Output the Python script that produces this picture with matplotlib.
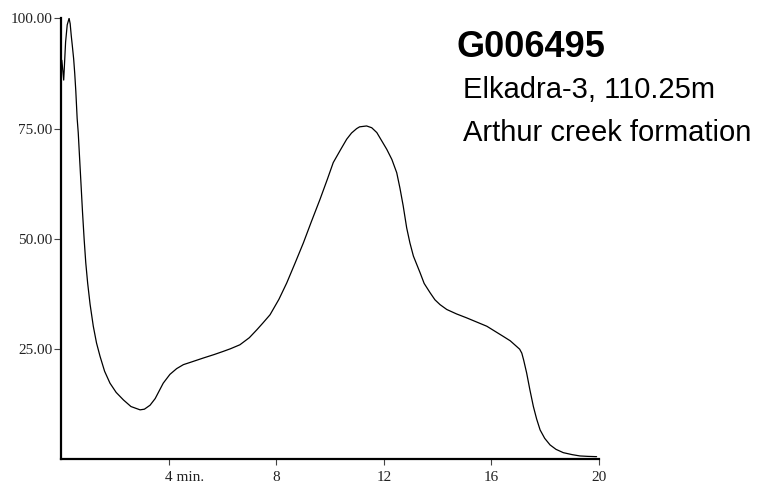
import matplotlib
matplotlib.use('Agg')
import matplotlib.pyplot as plt
import matplotlib.transforms as mtransforms

# retention time (min) and relative intensity (%)
time_min = [0.03, 0.10, 0.17, 0.23, 0.30, 0.34, 0.38, 0.42, 0.47, 0.51,
            0.55, 0.60, 0.64, 0.69, 0.74, 0.80, 0.86, 0.92, 0.99, 1.08,
            1.20, 1.32, 1.45, 1.62, 1.82, 2.05, 2.32, 2.60, 2.94, 3.10,
            3.31, 3.50, 3.80, 4.05, 4.30, 4.55, 4.80, 5.29, 5.70, 6.03,
            6.30, 6.65, 7.00, 7.28, 7.50, 7.77, 8.10, 8.39, 8.70, 9.01,
            9.30, 9.63, 9.90, 10.12, 10.40, 10.62, 10.80, 10.99, 11.10, 11.36,
            11.55, 11.74, 12.11, 12.30, 12.48, 12.60, 12.72, 12.85, 12.97, 13.10,
            13.35, 13.50, 13.72, 13.90, 14.09, 14.34, 14.70, 15.08, 15.83, 16.44,
            16.70, 16.94, 17.05, 17.13, 17.20, 17.31, 17.43, 17.56, 17.68, 17.81,
            17.98, 18.18, 18.40, 18.67, 19.00, 19.29, 19.60, 19.91]
intensity = [90.5, 86.0, 94.6, 98.5, 100.0, 98.8, 96.1, 93.8, 90.8, 87.5,
             83.5, 77.3, 74.1, 68.4, 62.8, 56.0, 49.9, 44.6, 40.0, 35.2,
             30.2, 26.4, 23.4, 20.0, 17.3, 15.2, 13.5, 12.0, 11.25, 11.4,
             12.3, 13.8, 17.3, 19.3, 20.6, 21.5, 22.0, 23.0, 23.8, 24.5,
             25.1, 26.0, 27.6, 29.4, 30.9, 32.8, 36.3, 40.0, 44.5, 49.1,
             53.8, 59.0, 63.5, 67.3, 70.3, 72.6, 74.0, 75.0, 75.4, 75.6,
             75.2, 74.1, 70.3, 68.0, 65.0, 61.5, 57.5, 52.5, 49.1, 46.1,
             42.3, 39.9, 37.8, 36.2, 35.1, 34.0, 33.0, 32.1, 30.2, 27.9,
             26.9, 25.6, 25.0, 24.1, 22.5, 19.6, 15.8, 12.0, 9.2, 6.7,
             4.8, 3.3, 2.3, 1.55, 1.1, 0.8, 0.7, 0.64]

x_ticks = [4, 8, 12, 16, 20]
x_labels = ['4 min.', '8', '12', '16', '20']
y_ticks = [25, 50, 75, 100]
y_labels = ['25.00', '50.00', '75.00', '100.00']

sample_id = 'G006495'
sample_well = 'Elkadra-3, 110.25m'
sample_formation = 'Arthur creek formation'

fig = plt.figure(figsize=(7.57, 4.91), dpi=100)
ax = fig.add_axes([0.0806, 0.0642, 0.7107, 0.8985])

ax.plot(time_min, intensity, color='black', linewidth=0.9,
        solid_joinstyle='round', solid_capstyle='round')

ax.set_xlim(0, 20)
ax.set_ylim(0, 100)
ax.spines['top'].set_visible(False)
ax.spines['right'].set_visible(False)
ax.spines['left'].set_linewidth(1.6)
ax.spines['bottom'].set_linewidth(1.6)

ax.set_xticks(x_ticks)
ax.set_xticklabels(x_labels, fontfamily='Liberation Serif', fontsize=11, color='#222222')
ax.set_yticks(y_ticks)
ax.set_yticklabels(y_labels, fontfamily='Liberation Serif', fontsize=11, color='#222222')
ax.tick_params(axis='x', length=4, width=0.8, pad=4, color='#444444')
ax.tick_params(axis='y', length=5, width=0.8, pad=1, color='#444444')

# keep the "4" of "4 min." centred under its tick
lbl = ax.get_xticklabels()[0]
lbl.set_horizontalalignment('left')
lbl.set_transform(lbl.get_transform() + mtransforms.ScaledTranslation(-4 / 100, 0, fig.dpi_scale_trans))

fig.text(457 / 757, 1 - 57 / 491, sample_id, fontfamily='Liberation Sans',
         fontweight='bold', fontsize=26, ha='left', va='baseline')
fig.text(463 / 757, 1 - 98 / 491, sample_well, fontfamily='Liberation Sans',
         fontsize=21, ha='left', va='baseline')
fig.text(463 / 757, 1 - 141 / 491, sample_formation, fontfamily='Liberation Sans',
         fontsize=21, ha='left', va='baseline')

fig.savefig('out.png', dpi=100)
